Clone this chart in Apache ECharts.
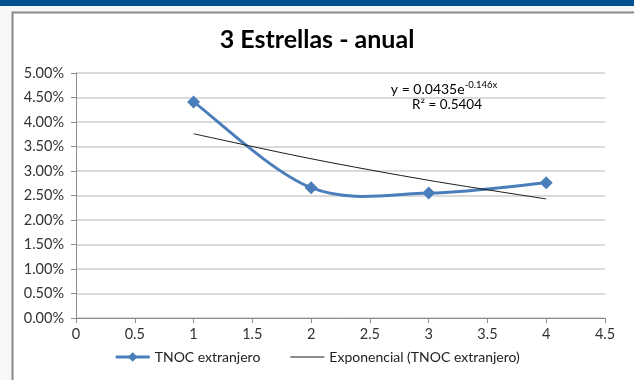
<!DOCTYPE html>
<html>
<head>
<meta charset="utf-8">
<script src="https://cdn.jsdelivr.net/npm/echarts@6/dist/echarts.min.js"></script>
<style>
html,body{margin:0;padding:0;background:#ffffff;}
#c{width:634px;height:380px;}
</style>
</head>
<body>
<div id="c"></div>
<script>
// Data
var xValues = [1, 2, 3, 4];
var tnocValues = [0.0441, 0.0266, 0.0255, 0.0276];
var trendValues = [0.0376, 0.0325, 0.0281, 0.0243];
var xTicks = ['0', '0.5', '1', '1.5', '2', '2.5', '3', '3.5', '4', '4.5'];
var yTicks = ['0.00%', '0.50%', '1.00%', '1.50%', '2.00%', '2.50%', '3.00%', '3.50%', '4.00%', '4.50%', '5.00%'];
var seriesNames = ['TNOC extranjero', 'Exponencial (TNOC extranjero)'];
var titleText = '3 Estrellas - anual';
var eqLine1 = ['y = 0.0435e', '-0.146x'];
var eqLine2 = 'R² = 0.5404';

var FONT = 'Lato, "Open Sans", sans-serif';
var BLUE = '#4a7ebb';
var chart = echarts.init(document.getElementById('c'), null, {renderer: 'canvas'});

function pairs(xs, ys) { return xs.map(function (x, i) { return [x, ys[i]]; }); }
var tnocData = pairs(xValues, tnocValues);

// Smooth curve (Catmull-Rom style, like spreadsheet smoothing) through the data points,
// positioned through the chart's own coordinate system.
function renderSmooth(params, api) {
  if (params.dataIndex !== 0) return null;
  var pts = tnocData.map(function (d) { return api.coord(d); });
  var n = pts.length;
  var path = 'M' + pts[0][0] + ' ' + pts[0][1];
  for (var i = 0; i < n - 1; i++) {
    var p0 = pts[Math.max(i - 1, 0)], p1 = pts[i], p2 = pts[i + 1], p3 = pts[Math.min(i + 2, n - 1)];
    var c1x = p1[0] + (p2[0] - p0[0]) / 6, c1y = p1[1] + (p2[1] - p0[1]) / 6;
    var c2x = p2[0] - (p3[0] - p1[0]) / 6, c2y = p2[1] - (p3[1] - p1[1]) / 6;
    path += ' C' + c1x + ' ' + c1y + ' ' + c2x + ' ' + c2y + ' ' + p2[0] + ' ' + p2[1];
  }
  return {
    type: 'path',
    shape: {pathData: path},
    style: {stroke: BLUE, lineWidth: 3, fill: null}
  };
}

chart.setOption({
  animation: false,
  backgroundColor: '#ffffff',
  textStyle: {fontFamily: FONT},
  graphic: [
    {type: 'rect', shape: {x: 0, y: 0, width: 634, height: 6}, style: {fill: '#03528f'}, z: 0},
    {type: 'rect', shape: {x: 0, y: 6, width: 634, height: 374}, style: {fill: '#f6f7f8'}, z: -1},
    {type: 'rect', shape: {x: 12.5, y: 12.5, width: 640, height: 400}, style: {fill: '#ffffff', stroke: '#8a8a8a', lineWidth: 2}, z: -1},
    {type: 'text', left: 'center', top: 27, style: {text: titleText, font: 'bold 25px ' + FONT, fill: '#000000'}},
    {type: 'text', x: 444, y: 80, style: {
      text: '{a|' + eqLine1[0] + '}{s|' + eqLine1[1] + '}',
      align: 'center',
      rich: {
        a: {fontSize: 14, fontFamily: FONT, fill: '#000', lineHeight: 16, verticalAlign: 'bottom'},
        s: {fontSize: 9.5, fontFamily: FONT, fill: '#000', lineHeight: 16, verticalAlign: 'top'}
      }
    }},
    {type: 'text', x: 447, y: 98, style: {text: eqLine2, align: 'center', font: '13.5px ' + FONT, fill: '#000'}}
  ],
  grid: {left: 76, right: 29, top: 73, bottom: 62, containLabel: false},
  legend: {
    bottom: 11,
    left: 'center',
    itemWidth: 34,
    itemHeight: 12,
    itemGap: 30,
    textStyle: {fontSize: 14, color: '#222', fontFamily: FONT},
    data: [
      {name: seriesNames[0], lineStyle: {color: BLUE, width: 3, opacity: 1}},
      {name: seriesNames[1], icon: 'path://M0,0 L34,0 L34,1 L0,1 Z'}
    ]
  },
  xAxis: {
    type: 'value',
    min: 0, max: 4.5, interval: 0.5,
    axisLine: {show: true, lineStyle: {color: '#8c8c8c', width: 1}},
    axisTick: {show: true, length: 5, lineStyle: {color: '#8c8c8c'}},
    splitLine: {show: false},
    axisLabel: {
      margin: 9, fontSize: 14.5, color: '#333', fontFamily: FONT,
      formatter: function (v) { return xTicks[Math.round(v / 0.5)]; }
    }
  },
  yAxis: {
    type: 'value',
    min: 0, max: 0.05, interval: 0.005,
    axisLine: {show: true, lineStyle: {color: '#8c8c8c', width: 1}},
    axisTick: {show: true, length: 5, lineStyle: {color: '#8c8c8c'}},
    splitLine: {show: true, lineStyle: {color: '#cfcfcf', width: 1.5}},
    axisLabel: {
      margin: 12, fontSize: 14.5, color: '#333', fontFamily: FONT,
      formatter: function (v) { return yTicks[Math.round(v / 0.005)]; }
    }
  },
  series: [
    {
      name: seriesNames[0],
      type: 'line',
      data: tnocData,
      symbol: 'diamond',
      symbolSize: 13,
      lineStyle: {color: BLUE, width: 3, opacity: 0},
      itemStyle: {color: BLUE},
      z: 4
    },
    {
      name: seriesNames[0] + ' curve',
      type: 'custom',
      renderItem: renderSmooth,
      data: tnocData,
      z: 3,
      silent: true
    },
    {
      name: seriesNames[1],
      type: 'line',
      data: pairs(xValues, trendValues),
      smooth: 0.3,
      symbol: 'none',
      lineStyle: {color: '#1a1a1a', width: 1},
      itemStyle: {color: '#1a1a1a'},
      z: 5
    }
  ]
});
</script>
</body>
</html>
